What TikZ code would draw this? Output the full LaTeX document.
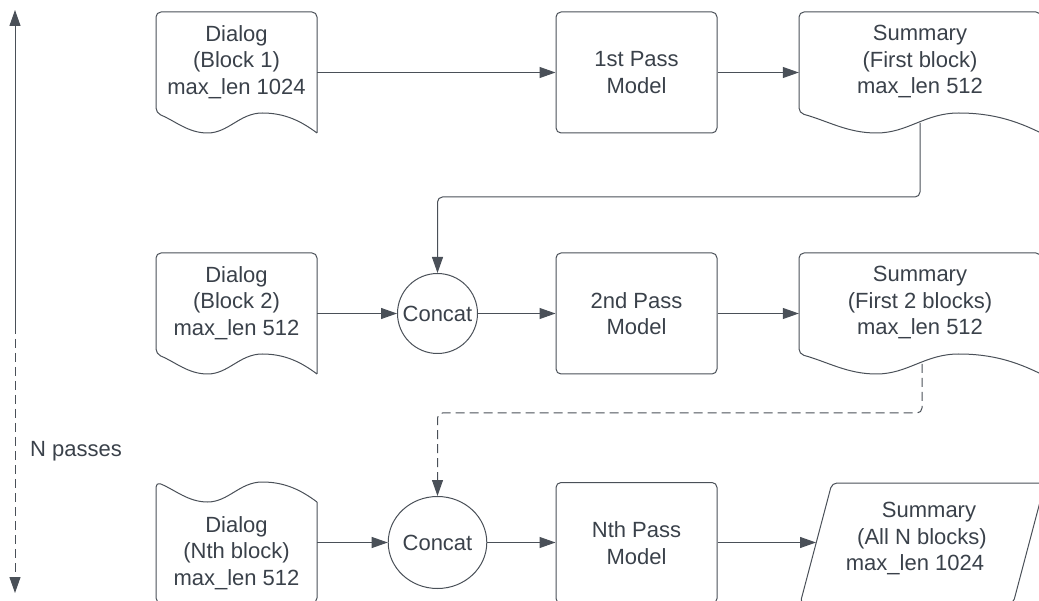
\documentclass[tikz,border=0pt]{standalone}
\usepackage{fontspec}
\setmainfont{Liberation Sans}
\usetikzlibrary{arrows.meta,calc,shapes.geometric}
\definecolor{ln}{HTML}{4A5058}
\definecolor{tx}{HTML}{3A414A}
\tikzset{
  shp/.style={draw=ln, line width=1pt},
  arr/.style={draw=ln, line width=1pt, -{Triangle[length=16pt,width=11pt]}},
  dsh/.style={dash pattern=on 9pt off 5pt},
  txt/.style={text=tx, font=\fontsize{22}{26.5}\selectfont, align=center, inner sep=0pt},
  hold/.style={inner sep=0pt, minimum width=#1, minimum height=121pt},
  modelbox/.style={draw=ln, line width=1pt, rounded corners=5pt, minimum width=161pt, minimum height=121pt, inner sep=0pt, txt},
  circ/.style={draw=ln, line width=1pt, circle, minimum size=80pt, inner sep=0pt, txt},
  ell/.style={draw=ln, line width=1pt, ellipse, minimum width=81pt, minimum height=92pt, inner sep=0pt, txt},
}
% document shape with wavy bottom: x, top, width, height
\newcommand{\docbottom}[4]{%
  \draw[shp] ({#1+#3},{#2+#4}) [rounded corners=5pt] -- ({#1+#3},#2) -- (#1,#2) -- (#1,{#2+#4-20}) [sharp corners]
    .. controls ({#1+0.12*#3},{#2+#4-12}) and ({#1+0.2*#3},{#2+#4}) .. ({#1+0.32*#3},{#2+#4})
    .. controls ({#1+0.45*#3},{#2+#4}) and ({#1+0.52*#3},{#2+#4-20}) .. ({#1+0.66*#3},{#2+#4-20})
    .. controls ({#1+0.8*#3},{#2+#4-20}) and ({#1+0.9*#3},{#2+#4-12}) .. ({#1+#3},{#2+#4});
}
% document shape with wavy top: x, top, width, height
\newcommand{\doctop}[4]{%
  \draw[shp] ({#1+#3},{#2+20}) [rounded corners=5pt] -- ({#1+#3},{#2+#4}) -- (#1,{#2+#4}) -- (#1,#2) [sharp corners]
    .. controls ({#1+0.12*#3},{#2+8}) and ({#1+0.2*#3},{#2+20}) .. ({#1+0.32*#3},{#2+20})
    .. controls ({#1+0.45*#3},{#2+20}) and ({#1+0.52*#3},#2) .. ({#1+0.66*#3},#2)
    .. controls ({#1+0.8*#3},#2) and ({#1+0.9*#3},{#2+8}) .. ({#1+#3},{#2+20});
}
\begin{document}
\begin{tikzpicture}[x=1pt,y=-1pt]
\useasboundingbox (0,0) rectangle (1039,601);
\clip (0,0) rectangle (1039,601);

% left N passes arrow
\coordinate (pt) at (15,10);
\coordinate (pm) at (15,325);
\coordinate (pb) at (15,593);
\draw[arr] (pm) -- (pt);
\draw[arr,dsh] (pm) -- (pb);
\node[txt, anchor=west] (np) at (30,451) {N passes};

% ---- row 1 ----
\node[hold=161pt] (d1) at (236.5,72.5) {};
\docbottom{156}{12}{161}{121}
\node[txt] (d1t) at (236.5,62) {Dialog\\(Block 1)\\max\_len 1024};

\node[modelbox] (m1) at (636.5,72.5) {1st Pass\\Model};

\node[hold=242pt] (s1) at (920,72.5) {};
\docbottom{799}{12}{242}{121}
\node[txt] (s1t) at (920,62) {Summary\\(First block)\\max\_len 512};

\draw[arr] (d1.east) -- (m1.west);
\draw[arr] (m1.east) -- (s1.west);

% ---- row 2 ----
\node[hold=161pt] (d2) at (236.5,313.5) {};
\docbottom{156}{253}{161}{121}
\node[txt] (d2t) at (236.5,303) {Dialog\\(Block 2)\\max\_len 512};

\node[circ] (c2) at (437.5,313.5) {Concat};
\node[modelbox] (m2) at (636.5,313.5) {2nd Pass\\Model};

\node[hold=242pt] (s2) at (920,313.5) {};
\docbottom{799}{253}{242}{121}
\node[txt] (s2t) at (920,303) {Summary\\(First 2 blocks)\\max\_len 512};

\draw[arr] (d2.east) -- (c2.west);
\draw[arr] (c2.east) -- (m2.west);
\draw[arr] (m2.east) -- (s2.west);

% feedback 1
\coordinate (s1b) at (920,123);
\coordinate (k1) at (920,197);
\draw[arr, rounded corners=5pt] (s1b) -- (k1) -| (c2.north);

% ---- row 3 ----
\node[hold=161pt] (d3) at (236.5,542.5) {};
\doctop{156}{482}{161}{121}
\node[txt] (d3t) at (236.5,553) {Dialog\\(Nth block)\\max\_len 512};

\node[ell] (c3) at (437.5,542.5) {Concat};
\node[modelbox] (m3) at (636.5,543) {Nth Pass\\Model};

\draw[shp, rounded corners=5pt] (832,483) -- (1045,483) -- (1013,604) -- (800,604) -- cycle;
\node[txt] (s3t) at (922,539) {\hspace*{14pt}Summary\\(All N blocks)\\max\_len 1024\kern14pt};
\coordinate (s3in) at (816,542.5);

\draw[arr] (d3.east) -- (c3.west);
\draw[arr] (c3.east) -- (c3.east -| m3.west);
\draw[arr] (m3.east |- c3.east) -- (s3in);

% feedback 2 (dashed)
\coordinate (s2b) at (922,364);
\coordinate (k2) at (922,413);
\draw[arr, dsh, rounded corners=5pt] (s2b) -- (k2) -| (c3.north);
\end{tikzpicture}
\end{document}
